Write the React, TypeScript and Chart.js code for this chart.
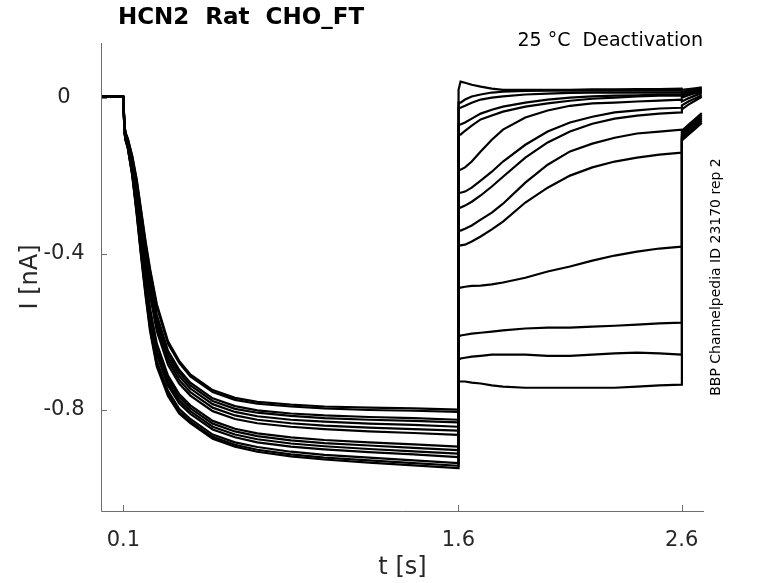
import { Chart, registerables } from "chart.js";
import { useEffect, useRef } from "react";

Chart.register(...registerables);

// holding level before the step (s, nA)
const baselineTime = [0.006, 0.05, 0.099];
const baselineCurrent = [0.003, 0.002, 0.003];

// activating step, 0.1 .. 1.6 s
const activationTime = [0.1, 0.105, 0.11, 0.12, 0.14, 0.16, 0.18, 0.2, 0.22, 0.25, 0.3, 0.35, 0.4, 0.5, 0.6, 0.7, 0.85, 1.0, 1.2, 1.4, 1.6];
const activationCurrent = [
  [0, -0.07, -0.09, -0.105, -0.15, -0.21, -0.29, -0.37, -0.44, -0.53, -0.625, -0.675, -0.71, -0.75, -0.77, -0.78, -0.787, -0.792, -0.795, -0.797, -0.8],
  [0, -0.071, -0.091, -0.106, -0.152, -0.214, -0.295, -0.376, -0.446, -0.536, -0.631, -0.68, -0.715, -0.755, -0.775, -0.785, -0.792, -0.797, -0.801, -0.803, -0.806],
  [0, -0.073, -0.093, -0.109, -0.159, -0.225, -0.31, -0.394, -0.467, -0.557, -0.649, -0.698, -0.731, -0.771, -0.791, -0.802, -0.81, -0.815, -0.819, -0.822, -0.826],
  [0, -0.074, -0.094, -0.111, -0.161, -0.23, -0.316, -0.401, -0.475, -0.565, -0.656, -0.705, -0.738, -0.778, -0.798, -0.808, -0.816, -0.822, -0.826, -0.829, -0.833],
  [0, -0.076, -0.096, -0.112, -0.165, -0.236, -0.325, -0.411, -0.486, -0.576, -0.666, -0.714, -0.746, -0.786, -0.806, -0.817, -0.826, -0.831, -0.836, -0.839, -0.844],
  [0, -0.077, -0.097, -0.114, -0.168, -0.242, -0.333, -0.42, -0.498, -0.588, -0.675, -0.724, -0.755, -0.795, -0.815, -0.826, -0.835, -0.841, -0.846, -0.85, -0.854],
  [0, -0.079, -0.099, -0.116, -0.172, -0.249, -0.342, -0.43, -0.509, -0.599, -0.685, -0.733, -0.764, -0.804, -0.824, -0.835, -0.844, -0.85, -0.856, -0.86, -0.865],
  [0, -0.083, -0.103, -0.121, -0.182, -0.267, -0.366, -0.458, -0.541, -0.631, -0.713, -0.76, -0.789, -0.829, -0.849, -0.861, -0.871, -0.878, -0.884, -0.889, -0.895],
  [0, -0.084, -0.104, -0.122, -0.185, -0.272, -0.373, -0.467, -0.55, -0.64, -0.722, -0.768, -0.796, -0.836, -0.856, -0.868, -0.879, -0.886, -0.892, -0.898, -0.904],
  [0, -0.085, -0.105, -0.124, -0.188, -0.278, -0.38, -0.475, -0.56, -0.65, -0.73, -0.776, -0.804, -0.844, -0.864, -0.876, -0.887, -0.894, -0.901, -0.907, -0.913],
  [0, -0.086, -0.106, -0.125, -0.191, -0.283, -0.387, -0.483, -0.57, -0.66, -0.738, -0.784, -0.811, -0.851, -0.871, -0.884, -0.895, -0.902, -0.909, -0.915, -0.922],
  [0, -0.088, -0.108, -0.128, -0.196, -0.292, -0.399, -0.497, -0.586, -0.676, -0.752, -0.798, -0.824, -0.864, -0.884, -0.896, -0.908, -0.916, -0.923, -0.93, -0.937],
  [0, -0.089, -0.109, -0.129, -0.198, -0.296, -0.405, -0.504, -0.594, -0.684, -0.759, -0.805, -0.83, -0.87, -0.89, -0.903, -0.915, -0.923, -0.93, -0.937, -0.944],
  [0, -0.09, -0.11, -0.13, -0.2, -0.3, -0.41, -0.51, -0.6, -0.69, -0.765, -0.81, -0.835, -0.875, -0.895, -0.908, -0.92, -0.928, -0.936, -0.943, -0.95],
];

// deactivating test step, 1.6 .. 2.6 s
const testTime = [1.601, 1.61, 1.63, 1.66, 1.7, 1.75, 1.8, 1.9, 2.0, 2.1, 2.2, 2.3, 2.4, 2.5, 2.6];
const testCurrent = [
  [0.02, 0.041, 0.038, 0.033, 0.028, 0.023, 0.02, 0.02, 0.02, 0.02, 0.021, 0.021, 0.022, 0.022, 0.023],
  [-0.013, -0.013, -0.005, 0.003, 0.008, 0.013, 0.015, 0.017, 0.018, 0.018, 0.018, 0.018, 0.018, 0.018, 0.018],
  [-0.026, -0.026, -0.021, -0.013, -0.005, 0.0, 0.003, 0.008, 0.01, 0.012, 0.013, 0.013, 0.013, 0.013, 0.013],
  [-0.069, -0.069, -0.064, -0.054, -0.041, -0.031, -0.023, -0.013, -0.005, 0.0, 0.003, 0.005, 0.006, 0.008, 0.008],
  [-0.095, -0.095, -0.085, -0.072, -0.056, -0.046, -0.036, -0.023, -0.015, -0.008, -0.003, 0.0, 0.003, 0.005, 0.005],
  [-0.185, -0.185, -0.179, -0.164, -0.138, -0.108, -0.082, -0.051, -0.033, -0.021, -0.015, -0.013, -0.01, -0.008, -0.005],
  [-0.244, -0.244, -0.241, -0.231, -0.213, -0.19, -0.164, -0.121, -0.087, -0.064, -0.049, -0.038, -0.033, -0.028, -0.026],
  [-0.282, -0.282, -0.277, -0.267, -0.251, -0.228, -0.203, -0.154, -0.115, -0.087, -0.067, -0.054, -0.046, -0.041, -0.038],
  [-0.341, -0.341, -0.336, -0.328, -0.313, -0.295, -0.272, -0.218, -0.172, -0.138, -0.118, -0.103, -0.092, -0.087, -0.082],
  [-0.379, -0.379, -0.377, -0.369, -0.356, -0.338, -0.318, -0.269, -0.231, -0.2, -0.179, -0.164, -0.154, -0.146, -0.141],
  [-0.487, -0.487, -0.485, -0.483, -0.482, -0.479, -0.474, -0.462, -0.446, -0.433, -0.418, -0.405, -0.395, -0.387, -0.382],
  [-0.613, -0.61, -0.608, -0.605, -0.603, -0.6, -0.597, -0.592, -0.59, -0.59, -0.587, -0.585, -0.582, -0.579, -0.577],
  [-0.672, -0.669, -0.667, -0.664, -0.662, -0.659, -0.659, -0.659, -0.662, -0.662, -0.659, -0.656, -0.654, -0.656, -0.659],
  [-0.728, -0.728, -0.728, -0.731, -0.733, -0.738, -0.741, -0.744, -0.744, -0.744, -0.744, -0.744, -0.741, -0.738, -0.736],
];

// tail after 2.6 s
const tailTime = [2.601, 2.63, 2.66, 2.69];
const tailCurrent = [
  [0.02, 0.022, 0.024, 0.026],
  [0.015, 0.018, 0.021, 0.023],
  [0.01, 0.014, 0.018, 0.021],
  [0.005, 0.01, 0.014, 0.018],
  [0.0, 0.006, 0.011, 0.015],
  [-0.01, -0.002, 0.005, 0.011],
  [-0.02, -0.01, -0.002, 0.006],
  [-0.03, -0.018, -0.008, 0.002],
  [-0.085, -0.07, -0.055, -0.04],
  [-0.09, -0.075, -0.06, -0.045],
  [-0.095, -0.08, -0.065, -0.05],
  [-0.1, -0.085, -0.07, -0.055],
  [-0.105, -0.09, -0.075, -0.06],
  [-0.11, -0.095, -0.08, -0.065],
];

const xTicks = [0.1, 1.6, 2.6];
const yTicks = [0, -0.4, -0.8];

const FONT = '"DejaVu Sans", sans-serif';
const AXIS = "#6e6e6e";
const TEXT = "#262626";

const decorations = {
  id: "decorations",
  afterDraw(chart: Chart) {
    const { ctx, chartArea: a } = chart;
    const xs = chart.scales.x;
    const ys = chart.scales.y;
    ctx.save();
    // axis lines
    ctx.strokeStyle = AXIS;
    ctx.lineWidth = 1;
    ctx.beginPath();
    ctx.moveTo(a.left + 0.5, a.top);
    ctx.lineTo(a.left + 0.5, a.bottom + 0.5);
    ctx.lineTo(a.right, a.bottom + 0.5);
    // inward ticks
    xTicks.forEach((v) => {
      const px = Math.round(xs.getPixelForValue(v)) + 0.5;
      ctx.moveTo(px, a.bottom);
      ctx.lineTo(px, a.bottom - 6);
    });
    yTicks.forEach((v) => {
      const py = Math.round(ys.getPixelForValue(v)) + 0.5;
      ctx.moveTo(a.left, py);
      ctx.lineTo(a.left + 6, py);
    });
    ctx.stroke();

    ctx.fillStyle = TEXT;
    ctx.textBaseline = "middle";
    ctx.textAlign = "center";
    ctx.font = `21px ${FONT}`;
    xTicks.forEach((v) => ctx.fillText(String(v), xs.getPixelForValue(v), a.bottom + 30));
    yTicks.forEach((v) => ctx.fillText(String(v), 64, ys.getPixelForValue(v)));

    ctx.font = `24px ${FONT}`;
    ctx.fillText("t [s]", (a.left + a.right) / 2, a.bottom + 57);
    ctx.save();
    ctx.translate(31, (a.top + a.bottom) / 2);
    ctx.rotate(-Math.PI / 2);
    ctx.fillText("I [nA]", 0, 0);
    ctx.restore();

    ctx.fillStyle = "#000";
    ctx.font = `bold 23px ${FONT}`;
    ctx.fillText("HCN2  Rat  CHO_FT", 241, 18);

    ctx.textAlign = "right";
    ctx.font = `19px ${FONT}`;
    ctx.fillText("25 \u00B0C  Deactivation", a.right - 1, 41);

    ctx.save();
    ctx.translate(716, 277);
    ctx.rotate(-Math.PI / 2);
    ctx.textAlign = "center";
    ctx.font = `14px ${FONT}`;
    ctx.fillText("BBP Channelpedia ID 23170 rep 2", 0, 0);
    ctx.restore();
    ctx.restore();
  },
};

export default function App() {
  const canvasRef = useRef<HTMLCanvasElement | null>(null);
  const chartRef = useRef<Chart | null>(null);

  useEffect(() => {
    const ctx = canvasRef.current?.getContext("2d");
    if (!ctx) return;
    if (chartRef.current) chartRef.current.destroy();

    const datasets = activationCurrent.map((act, i) => ({
      data: [
        ...baselineTime.map((t, j) => ({ x: t, y: baselineCurrent[j] })),
        ...activationTime.map((t, j) => ({ x: t, y: act[j] })),
        ...testTime.map((t, j) => ({ x: t, y: testCurrent[i][j] })),
        ...tailTime.map((t, j) => ({ x: t, y: tailCurrent[i][j] })),
      ],
      borderColor: "#000",
      borderWidth: 2.2,
      pointRadius: 0,
      tension: 0,
      fill: false,
    }));

    chartRef.current = new Chart(ctx, {
      type: "line",
      data: { datasets },
      options: {
        animation: false,
        responsive: false,
        events: [],
        layout: { padding: { left: 101, right: 74, top: 43, bottom: 72 } },
        plugins: { legend: { display: false }, tooltip: { enabled: false } },
        scales: {
          x: {
            type: "linear",
            min: 0,
            max: 2.7,
            grid: { display: false },
            border: { display: false },
            ticks: { display: false },
            afterFit: (s: any) => { s.height = 0; },
          },
          y: {
            type: "linear",
            min: -1.06,
            max: 0.14,
            grid: { display: false },
            border: { display: false },
            ticks: { display: false },
            afterFit: (s: any) => { s.width = 0; },
          },
        },
      },
      plugins: [decorations],
    });

    return () => {
      chartRef.current?.destroy();
      chartRef.current = null;
    };
  }, []);

  return (
    <div style={{ position: "absolute", left: 0, top: 0, width: 778, height: 583, background: "#fff" }}>
      <canvas ref={canvasRef} width={778} height={583} style={{ width: "778px", height: "583px" }} />
    </div>
  );
}
